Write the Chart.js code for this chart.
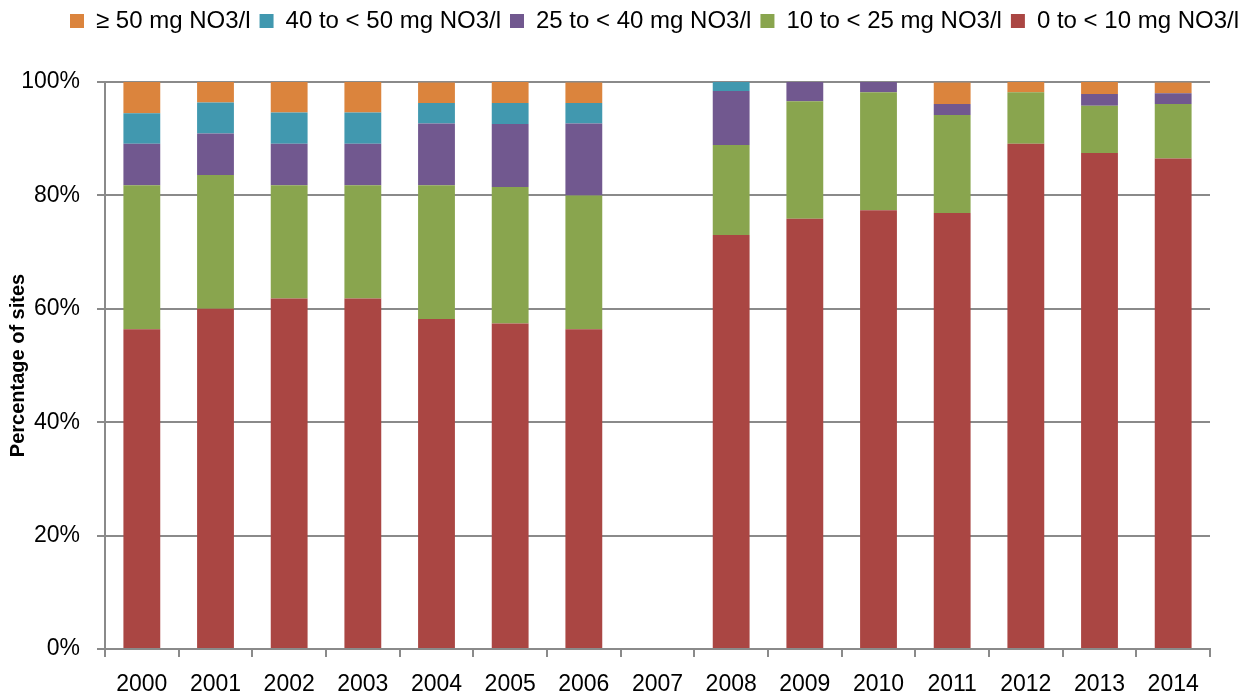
<!DOCTYPE html>
<html>
<head>
<meta charset="utf-8">
<script src="https://cdn.jsdelivr.net/npm/chart.js@4/dist/chart.umd.min.js"></script>
<style>
  html, body { margin: 0; padding: 0; background: #fff; }
  #wrap { width: 1248px; height: 696px; }
</style>
</head>
<body>
<div id="wrap"><canvas id="nitrateChart"></canvas></div>
<script>
// years and share of sites per nitrate class (%)
const years = ['2000', '2001', '2002', '2003', '2004', '2005', '2006', '2007',
               '2008', '2009', '2010', '2011', '2012', '2013', '2014'];
const class0to10  = [56.4, 60.0, 61.8, 61.8, 58.2, 57.4, 56.4, null, 73.0, 75.9, 77.4, 76.9, 89.1, 87.5, 86.5];
const class10to25 = [25.4, 23.6, 20.0, 20.0, 23.6, 24.1, 23.6, null, 15.9, 20.7, 20.8, 17.3, 9.1, 8.3, 9.6];
const class25to40 = [7.3, 7.3, 7.3, 7.3, 10.9, 11.1, 12.7, null, 9.5, 3.4, 1.9, 1.9, 0, 2.1, 1.9];
const class40to50 = [5.4, 5.5, 5.5, 5.5, 3.6, 3.7, 3.6, null, 1.6, 0, 0, 0, 0, 0, 0];
const class50plus = [5.5, 3.6, 5.5, 5.5, 3.6, 3.7, 3.6, null, 0, 0, 0, 3.8, 1.8, 2.1, 1.9];
const yTicks = [0, 20, 40, 60, 80, 100];

const fontFamily = "'Liberation Sans', Arial, sans-serif";
const gridGrey = '#8a8a8a';

// push the plot area down below the legend
const legendSpace = {
    id: 'legendSpace',
    beforeInit(chart) {
        const origFit = chart.legend.fit;
        chart.legend.fit = function () {
            origFit.bind(chart.legend)();
            this.height = 82;
        };
    }
};

function renderChart() {
    const ctx = document.getElementById('nitrateChart').getContext('2d');
    new Chart(ctx, {
        type: 'bar',
        data: {
            labels: years,
            datasets: [
                { label: '0 to < 10 mg NO3/l', data: class0to10, backgroundColor: '#AA4643' },
                { label: '10 to < 25 mg NO3/l', data: class10to25, backgroundColor: '#89A54E' },
                { label: '25 to < 40 mg NO3/l', data: class25to40, backgroundColor: '#71588F' },
                { label: '40 to < 50 mg NO3/l', data: class40to50, backgroundColor: '#4198AF' },
                { label: '\u2265 50 mg NO3/l', data: class50plus, backgroundColor: '#DB843D' }
            ]
        },
        plugins: [legendSpace],
        options: {
            responsive: true,
            maintainAspectRatio: false,
            animation: false,
            layout: { padding: 0 },
            datasets: { bar: { categoryPercentage: 1.0, barPercentage: 0.5 } },
            plugins: {
                legend: {
                    position: 'top',
                    align: 'end',
                    reverse: true,
                    labels: {
                        boxWidth: 14,
                        boxHeight: 14,
                        padding: 9,
                        color: '#000',
                        font: { family: fontFamily, size: 24 }
                    }
                },
                tooltip: { enabled: false }
            },
            scales: {
                x: {
                    stacked: true,
                    afterFit: axis => { axis.height = 47; },
                    border: { color: gridGrey, width: 2 },
                    grid: { drawOnChartArea: false, color: gridGrey, lineWidth: 2, tickLength: 8 },
                    ticks: { color: '#000', font: { family: fontFamily, size: 23 }, padding: 14, maxRotation: 0 }
                },
                y: {
                    stacked: true,
                    min: 0,
                    max: 100,
                    afterBuildTicks: axis => { axis.ticks = yTicks.map(v => ({ value: v })); },
                    afterFit: axis => { axis.width = 105; },
                    border: { color: gridGrey, width: 2 },
                    grid: { color: gridGrey, lineWidth: 2, tickLength: 8 },
                    ticks: {
                        color: '#000',
                        padding: 17,
                        font: { family: fontFamily, size: 23 },
                        callback: v => v + '%'
                    },
                    title: {
                        display: true,
                        text: 'Percentage of sites',
                        color: '#000',
                        font: { family: fontFamily, size: 20, weight: 'bold', lineHeight: 1.2 },
                        padding: { top: 6, bottom: 0 }
                    }
                },
                yRight: {
                    position: 'right',
                    display: true,
                    afterFit: axis => { axis.width = 38; },
                    border: { display: false },
                    grid: { display: false },
                    ticks: { display: false }
                }
            }
        }
    });
}

renderChart();
</script>
</body>
</html>
